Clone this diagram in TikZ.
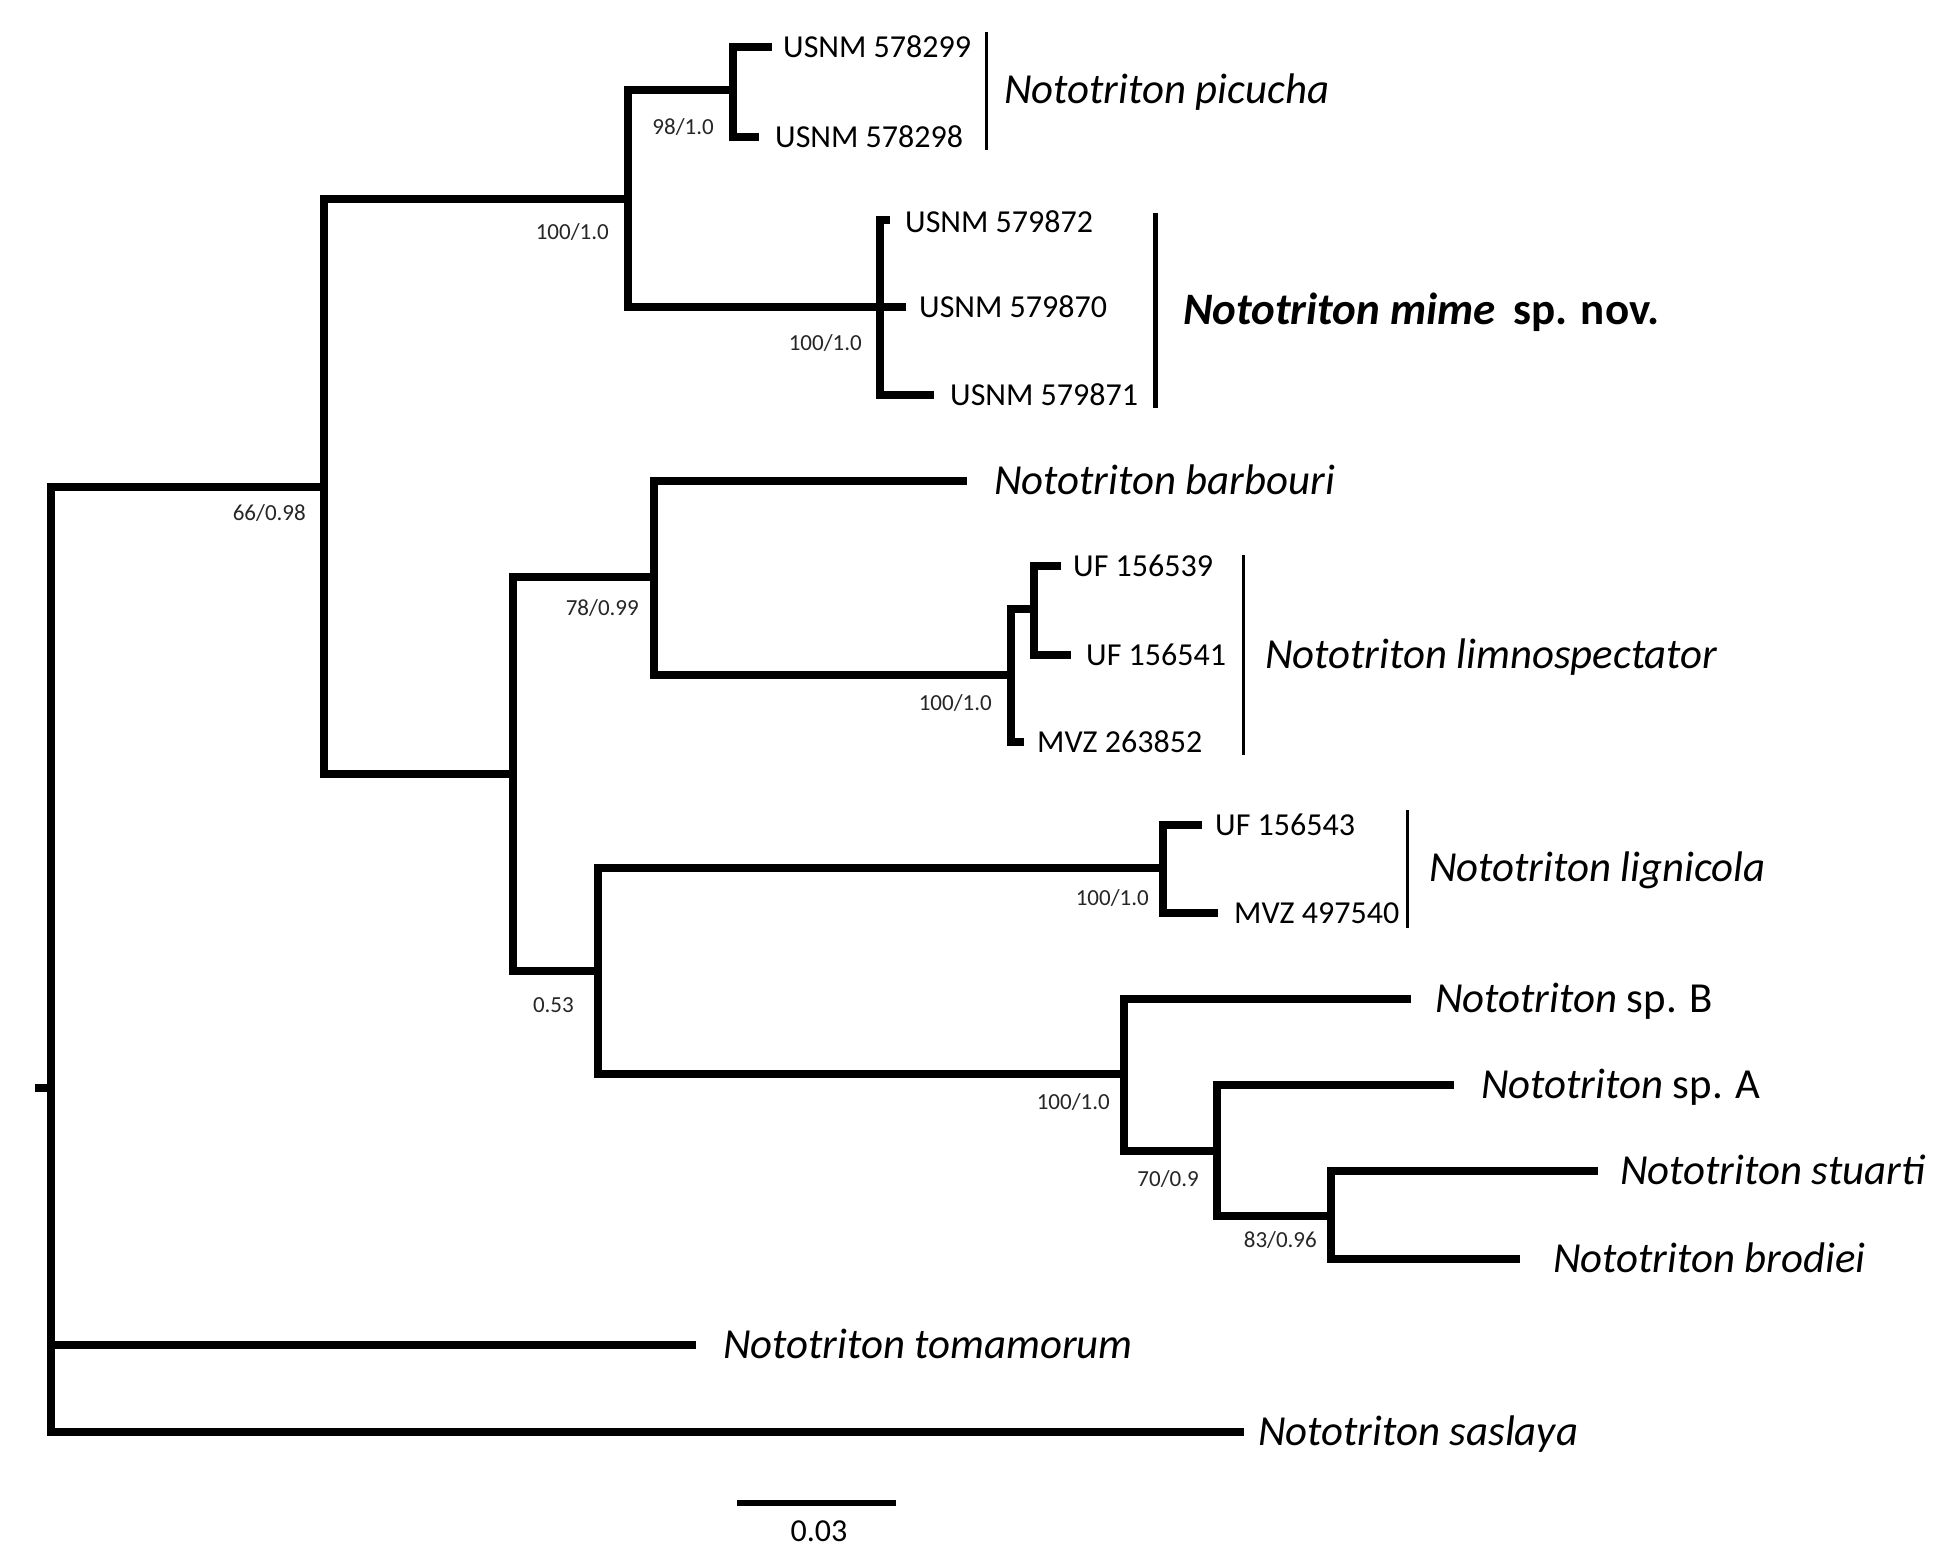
\documentclass[tikz,border=0pt]{standalone}
\usepackage{fontspec}
\setmainfont{Carlito}
\begin{document}
\begin{tikzpicture}[x=1pt,y=-1pt,
  br/.style={line width=7.5pt, line join=miter},
  cladebar/.style={line width=3pt},
  tiplab/.style={anchor=base west, inner sep=0pt, font=\fontsize{32}{38}\selectfont, yshift=-10.3pt},
  splab/.style={anchor=base west, inner sep=0pt, font=\fontsize{42.8}{50}\selectfont, yshift=-13.8pt},
  boldlab/.style={anchor=base west, inner sep=0pt, font=\fontsize{45}{52}\selectfont\bfseries, yshift=-14.5pt},
  suplab/.style={anchor=base east, inner sep=0pt, font=\fontsize{23}{27}\selectfont, yshift=-7.4pt, text=black!85},
]
\fill[white] (0,0) rectangle (1951,1567);
\useasboundingbox (0,0) rectangle (1951,1567);

% internal nodes
\coordinate (Rs) at (35,1088);
\coordinate (R) at (51,1088);
\coordinate (A) at (324,487);
\coordinate (B) at (628,199);
\coordinate (P) at (733,90);
\coordinate (M) at (880,307);
\coordinate (C) at (513,774);
\coordinate (D) at (654,577);
\coordinate (L) at (1011,675);
\coordinate (L2) at (1034,609);
\coordinate (E) at (598,971);
\coordinate (G) at (1163,868);
\coordinate (F) at (1124,1074);
\coordinate (H) at (1217,1151);
\coordinate (I) at (1331,1216);

% tip ends
\coordinate (p1) at (772,47);
\coordinate (p2) at (759,137);
\coordinate (m1) at (890,220);
\coordinate (m2) at (906,307);
\coordinate (m3) at (934,395);
\coordinate (ba) at (967,481);
\coordinate (l1) at (1061,566);
\coordinate (l2) at (1071,655);
\coordinate (l3) at (1024,742);
\coordinate (g1) at (1202,825);
\coordinate (g2) at (1218,913);
\coordinate (sb) at (1411,999);
\coordinate (sa) at (1454,1085);
\coordinate (st) at (1598,1171);
\coordinate (bd) at (1520,1259);
\coordinate (tm) at (696,1345);
\coordinate (ss) at (1244,1432);

% branches
\draw[br] (Rs) -- (R);
\draw[br] (R) |- (A);
\draw[br] (R) |- (tm);
\draw[br] (R) |- (ss);
\draw[br] (A) |- (B);
\draw[br] (A) |- (C);
\draw[br] (B) |- (P);
\draw[br] (B) |- (M);
\draw[br] (P) |- (p1);
\draw[br] (P) |- (p2);
\draw[br] (M) |- (m1);
\draw[br] (M) -- (m2);
\draw[br] (M) |- (m3);
\draw[br] (C) |- (D);
\draw[br] (C) |- (E);
\draw[br] (D) |- (ba);
\draw[br] (D) |- (L);
\draw[br] (L) |- (L2);
\draw[br] (L) |- (l3);
\draw[br] (L2) |- (l1);
\draw[br] (L2) |- (l2);
\draw[br] (E) |- (G);
\draw[br] (E) |- (F);
\draw[br] (G) |- (g1);
\draw[br] (G) |- (g2);
\draw[br] (F) |- (sb);
\draw[br] (F) |- (H);
\draw[br] (H) |- (sa);
\draw[br] (H) |- (I);
\draw[br] (I) |- (st);
\draw[br] (I) |- (bd);

% tip labels
\node[tiplab] (tp1) at (783,47) {USNM 578299};
\node[tiplab] (tp2) at (775,137) {USNM 578298};
\node[tiplab] (tm1) at (905,222) {USNM 579872};
\node[tiplab] (tm2) at (919,307) {USNM 579870};
\node[tiplab] (tm3) at (950,395) {USNM 579871};
\node[tiplab] (tl1) at (1073,566) {UF 156539};
\node[tiplab] (tl2) at (1086,655) {UF 156541};
\node[tiplab] (tl3) at (1037,742) {MVZ 263852};
\node[tiplab] (tg1) at (1215,825) {UF 156543};
\node[tiplab] (tg2) at (1234,913) {MVZ 497540};

% species labels
\node[splab] (npic) at (1004,90) {\textit{Nototriton picucha}};
\node[boldlab] (nmime) at (1183,310) {\textit{Nototriton mime}\hspace{7pt} sp. nov.};
\node[splab] (nbar) at (994,481) {\textit{Nototriton barbouri}};
\node[splab] (nlim) at (1265,655) {\textit{Nototriton limnospectator}};
\node[splab] (nlig) at (1429,868) {\textit{Nototriton lignicola}};
\node[splab] (nspb) at (1435,999) {\textit{Nototriton} sp. B};
\node[splab] (nspa) at (1481,1085) {\textit{Nototriton} sp. A};
\node[splab] (nstu) at (1620,1171) {\textit{Nototriton stuarti}};
\node[splab] (nbro) at (1553,1259) {\textit{Nototriton brodiei}};
\node[splab] (ntom) at (723,1345) {\textit{Nototriton tomamorum}};
\node[splab] (nsas) at (1258,1432) {\textit{Nototriton saslaya}};

% clade bars
\draw[cladebar] (986,32) -- (986,150);
\draw[cladebar, line width=5pt] (1155,213) -- (1155,408);
\draw[cladebar] (1243,555) -- (1243,755);
\draw[cladebar] (1407,810) -- (1407,928);

% support values
\node[suplab] (sP) at (714,127) {98/1.0};
\node[suplab] (sB) at (609,232) {100/1.0};
\node[suplab] (sM) at (862,343) {100/1.0};
\node[suplab] (sA) at (306,513) {66/0.98};
\node[suplab] (sD) at (639,608) {78/0.99};
\node[suplab] (sL) at (992,703) {100/1.0};
\node[suplab] (sG) at (1149,898) {100/1.0};
\node[suplab] (sE) at (574,1005) {0.53};
\node[suplab] (sF) at (1110,1102) {100/1.0};
\node[suplab] (sH) at (1199,1179) {70/0.9};
\node[suplab] (sI) at (1317,1240) {83/0.96};

% scale bar
\coordinate (sc1) at (737,1503);
\coordinate (sc2) at (896,1503);
\draw[line width=6pt] (sc1) -- (sc2);
\node[anchor=base, inner sep=0pt, font=\fontsize{32}{38}\selectfont, yshift=-10.3pt] (scl) at (819,1531) {0.03};
\end{tikzpicture}
\end{document}
